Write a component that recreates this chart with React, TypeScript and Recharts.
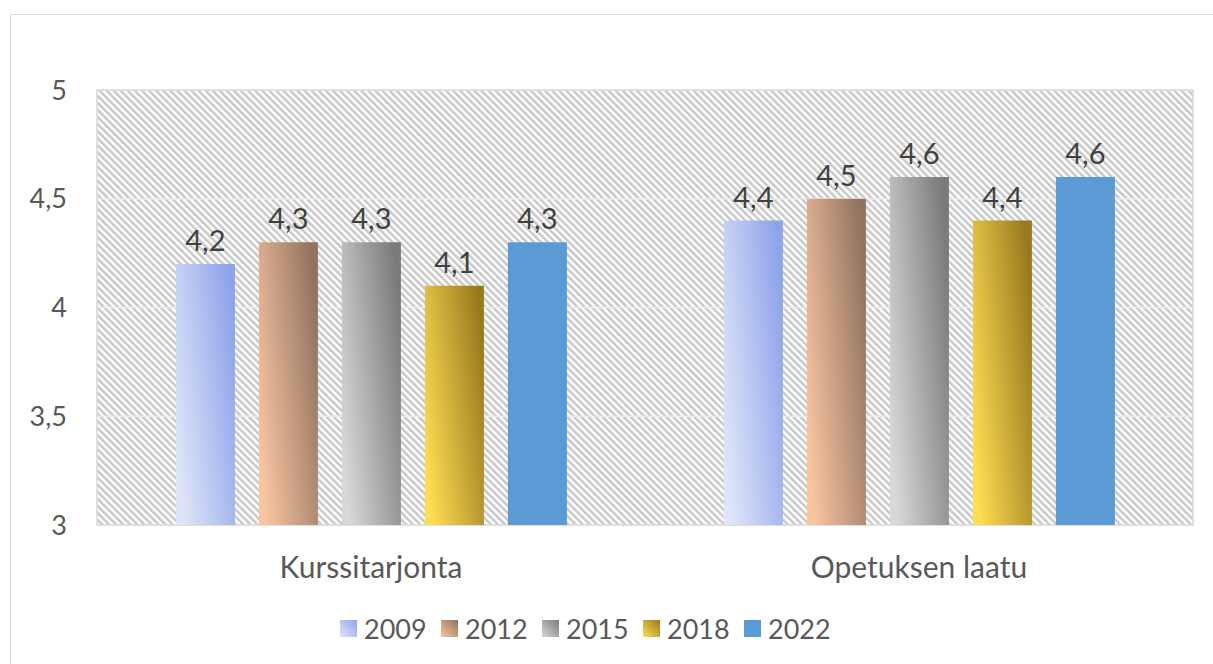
import React from "react";
import {
  BarChart, Bar, XAxis, YAxis, CartesianGrid, Legend, LabelList, ReferenceArea,
} from "recharts";

const categories = ["Kurssitarjonta", "Opetuksen laatu"];
const years = ["2009", "2012", "2015", "2018", "2022"];
const v2009 = [4.2, 4.4];
const v2012 = [4.3, 4.5];
const v2015 = [4.3, 4.6];
const v2018 = [4.1, 4.4];
const v2022 = [4.3, 4.6];
const yTicks = [3, 3.5, 4, 4.5, 5];

const data = categories.map((name, i) => ({
  name,
  "2009": v2009[i],
  "2012": v2012[i],
  "2015": v2015[i],
  "2018": v2018[i],
  "2022": v2022[i],
}));

// light (bottom-left) -> dark (top-right); 2022 is flat
const GRADS: Record<string, [string, string]> = {
  "2009": ["#dfe5f8", "#8ea4ea"],
  "2012": ["#f9c5a1", "#917360"],
  "2015": ["#d8d8d8", "#7a7a7a"],
  "2018": ["#fedd52", "#987a1e"],
  "2022": ["#5b9bd5", "#5b9bd5"],
};

const FONT = "Lato, 'Liberation Sans', sans-serif";
const comma = (v: any) => String(v).replace(".", ",");

function Defs() {
  return (
    <svg width={0} height={0} style={{ position: "absolute" }}>
      <defs>
        <pattern id="hatch" patternUnits="userSpaceOnUse" width={5} height={5} patternTransform="rotate(-45)">
          <rect width={5} height={5} fill="#ffffff" />
          <rect width={2.5} height={5} fill="#c8c8c8" />
        </pattern>
        {years.map((y) => (
          <linearGradient key={y} id={`g${y}`} x1="0" y1="0.75" x2="1" y2="0.25">
            <stop offset="0%" stopColor={GRADS[y][0]} />
            <stop offset="100%" stopColor={GRADS[y][1]} />
          </linearGradient>
        ))}
        {years.map((y) => (
          <linearGradient key={y} id={`l${y}`} x1="0" y1="1" x2="1" y2="0">
            <stop offset="0%" stopColor={GRADS[y][0]} />
            <stop offset="100%" stopColor={GRADS[y][1]} />
          </linearGradient>
        ))}
      </defs>
    </svg>
  );
}

function LegendBox() {
  return (
    <div style={{ display: "flex", justifyContent: "center", paddingRight: 8, fontFamily: FONT, fontSize: 27, color: "#595959" }}>
      {years.map((y) => (
        <div key={y} style={{ display: "flex", alignItems: "center", width: 101 }}>
          <svg width={17} height={17} style={{ marginRight: 7 }}>
            <rect width={17} height={17} fill={`url(#l${y})`} />
          </svg>
          <span>{y}</span>
        </div>
      ))}
    </div>
  );
}

export default function App() {
  return (
    <div style={{ position: "absolute", left: 0, top: 0, width: 1213, height: 664, background: "#fff", overflow: "hidden" }}>
      <Defs />
      <div style={{ position: "absolute", left: 10, top: 14, width: 1210, height: 660, border: "1px solid #d9d9d9" }} />
      <div style={{ position: "absolute", left: 0, top: 0 }}>
        <BarChart
          width={1213}
          height={664}
          data={data}
          margin={{ top: 90, right: 20, left: 0, bottom: 12 }}
          barCategoryGap="14.4%"
          barGap={24}
        >
          <CartesianGrid fill="url(#hatch)" stroke="#ececec" strokeWidth={1.5} vertical={false} />
          <ReferenceArea y1={3} y2={5} fill="none" stroke="#d9d9d9" strokeWidth={1.5} />
          <XAxis
            dataKey="name"
            height={87}
            axisLine={false}
            tickLine={false}
            tick={{ fontFamily: FONT, fontSize: 30, fill: "#595959", dy: 24 }}
          />
          <YAxis
            width={97}
            domain={[3, 5]}
            ticks={yTicks}
            axisLine={false}
            tickLine={false}
            tickSize={0}
            tickMargin={30}
            tickFormatter={comma}
            tick={{ fontFamily: FONT, fontSize: 27, fill: "#595959" }}
          />
          <Legend verticalAlign="bottom" height={40} content={() => <LegendBox />} />
          {years.map((y) => (
            <Bar key={y} dataKey={y} fill={`url(#g${y})`} isAnimationActive={false}>
              <LabelList
                dataKey={y}
                position="top"
                offset={13}
                formatter={comma}
                style={{ fontFamily: FONT, fontSize: 29, fill: "#404040" }}
              />
            </Bar>
          ))}
        </BarChart>
      </div>
    </div>
  );
}
